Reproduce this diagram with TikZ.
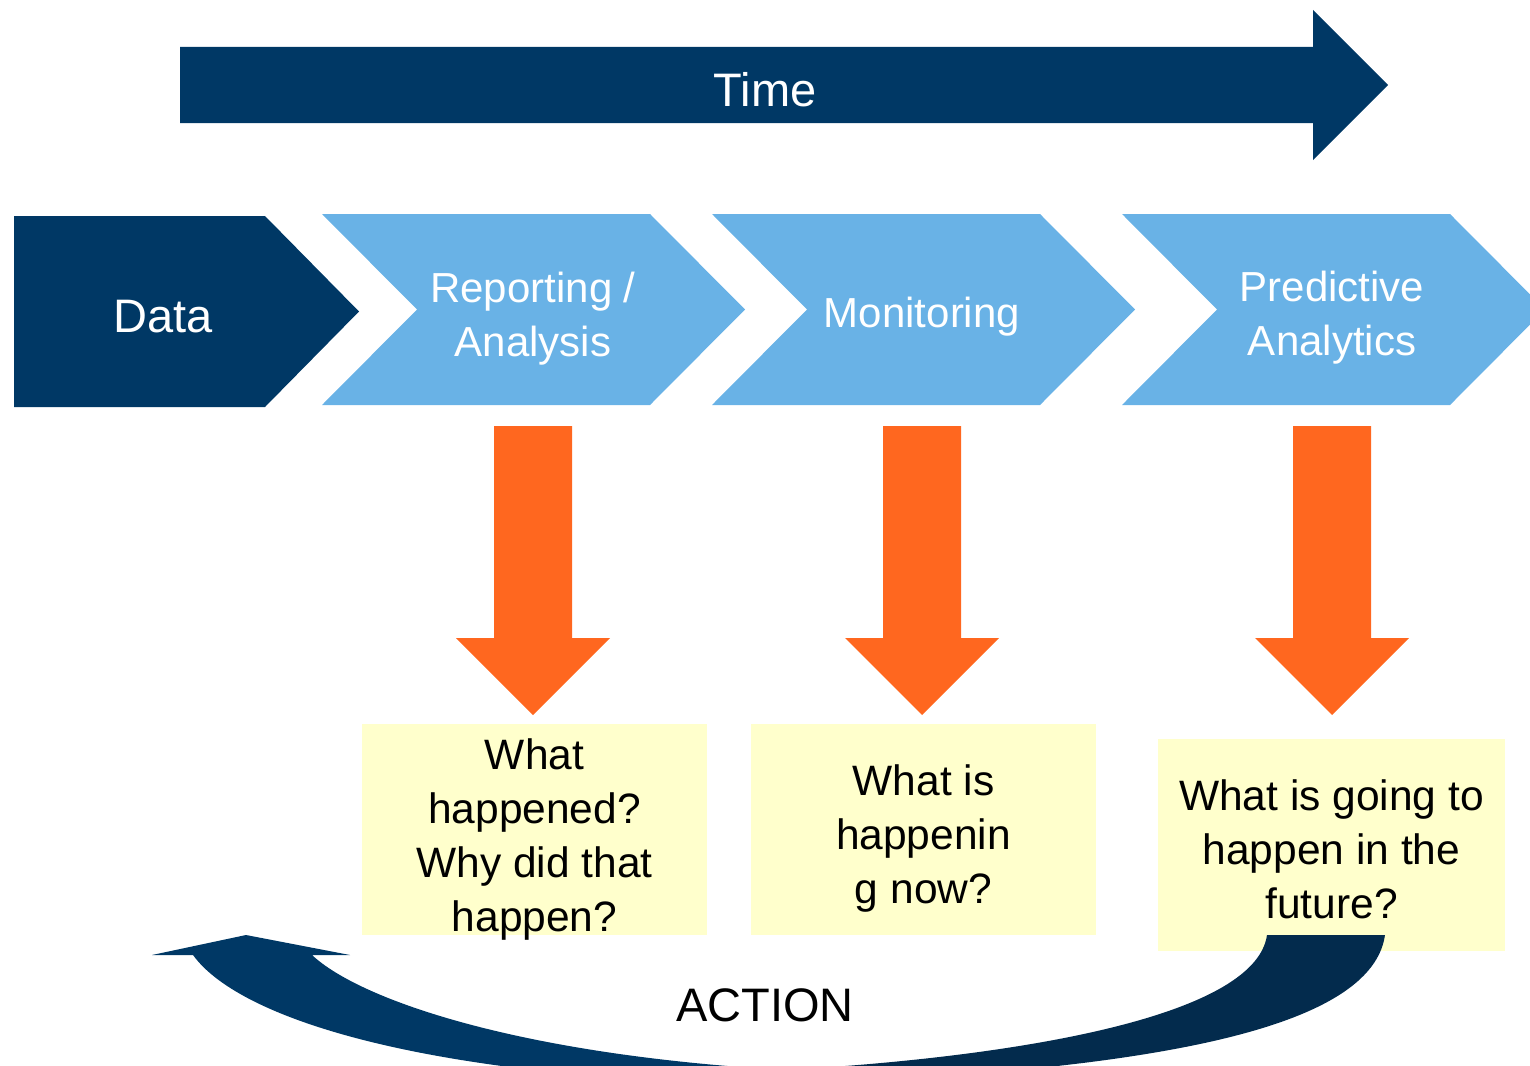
\documentclass[tikz,border=0pt]{standalone}
\usepackage{fontspec}
\setmainfont{Liberation Sans}
\usetikzlibrary{calc}

\definecolor{navy}{RGB}{0,56,101}
\definecolor{deepnavy}{RGB}{3,43,77}
\definecolor{skyblue}{RGB}{105,178,230}
\definecolor{flame}{RGB}{255,103,31}
\definecolor{paleyellow}{RGB}{255,255,204}

\tikzset{
    stage/.style = {text=white, align=center,
        font=\fontsize{42}{54}\selectfont},
    question/.style = {fill=paleyellow, align=center, inner sep=0pt,
        minimum width=345pt, minimum height=211pt,
        text depth=0pt,
        font=\fontsize{42.5}{54}\selectfont},
    banner/.style = {font=\fontsize{47}{56}\selectfont}
}

\begin{document}
\begin{tikzpicture}[x=1pt, y=-1pt]
    \clip (0,0) rectangle (1530,1065);
    % time arrow
    \fill [navy] (180,47) -- (1313,47) -- (1313,10) -- (1388,85) -- (1313,160) -- (1313,123) -- (180,123) -- cycle;
    \node [banner, text=white] (time) at (765,90) {Time};
    % chevrons
    \fill [navy] (14,216) -- (265,216) -- (359,311.5) -- (265,407) -- (14,407) -- cycle;
    \foreach \dx in {0,390,800}
        \fill [skyblue, xshift=\dx] (322,214) -- (650,214) -- (745,309.5) -- (650,405) -- (322,405) -- (417,309.5) -- cycle;
    \node [banner, text=white] (data) at (163,317) {Data};
    \node [stage] (report) at (533,319) {Reporting /\\Analysis};
    \node [stage] (monitor) at (922,317) {Monitoring};
    \node [stage] (predict) at (1332,318) {Predictive\\Analytics};
    % down arrows
    \foreach \s in {report,monitor,predict}
        \fill [flame] (\s |- 0,426) ++(-39,0) -- ++(78,0) -- ++(0,212) -- ++(38,0) -- ++(-77,77) -- ++(-77,-77) -- ++(38,0) -- cycle;
    % questions
    \node [question, text height=203pt] (q1) at (534.5,829.5) {What\\happened?\\Why did that\\happen?};
    \node [question, text height=147pt] (q2) at (923.5,829.5) {What is\\happenin\\g now?};
    \node [question, text height=146pt, minimum width=347pt, minimum height=212pt] (q3) at (1331.5,845) {What is going to\\happen in the\\future?};
    % action loop
    \fill [navy] (193,955) -- (152,955) -- (246,935) -- (350,955) -- (312,955)
        .. controls (360,1000) and (520,1055) .. (785,1070) -- (785,1085)
        .. controls (430,1080) and (240,1020) .. (193,955) -- cycle;
    \fill [deepnavy] (785,1070) .. controls (1000,1058) and (1255,1020) .. (1267,935)
        -- (1385,935) .. controls (1370,1040) and (1100,1072) .. (785,1085) -- cycle;
    \node [banner] (action) at (765,1005) {ACTION};
\end{tikzpicture}
\end{document}
